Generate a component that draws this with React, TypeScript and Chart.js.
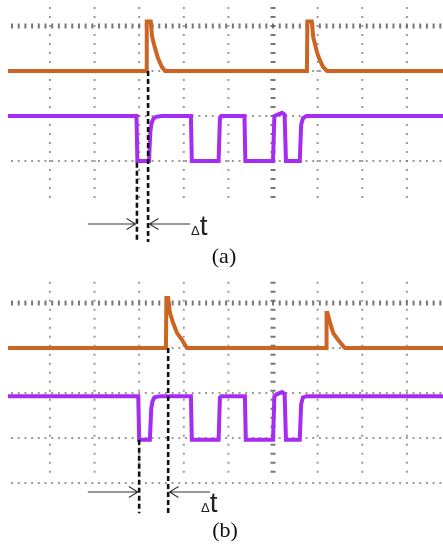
import React, { useEffect, useRef } from "react";
import { Chart, registerables } from "chart.js";

Chart.register(...registerables);

// ---- Axis ranges (in oscilloscope divisions) ----
const X_MIN = -5.94;
const X_MAX = 3.81;
const gridXDivs = [-5, -4, -3, -2, -1, 0, 1, 2, 3];

// ---- Panel (a) ----
const orangeA_x = [-5.94, -2.84, -2.83, -2.74, -2.71, -2.65, -2.58, -2.49, -2.42, 0.76, 0.77, 0.87, 0.9, 0.99, 1.05, 1.12, 1.21, 3.81];
const orangeA_y = [-1, -1, 0.1, 0.1, -0.24, -0.47, -0.71, -0.91, -1, -1, 0.1, 0.1, -0.24, -0.6, -0.76, -0.91, -1, -1];
const purpleA_x = [-5.94, -3.06, -3.04, -2.78, -2.75, -2.72, -2.68, -2.62, -2.5, -1.84, -1.82, -1.22, -1.19, -1.16, -0.64, -0.62, 0.0, 0.03, 0.08, 0.2, 0.26, 0.29, 0.6, 0.63, 0.67, 0.75, 3.81];
const purpleA_y = [-2, -2, -3, -3, -2.35, -2.15, -2.06, -2.02, -2, -2, -3, -3, -2.05, -2, -2, -3, -3, -2.0, -1.98, -1.93, -1.97, -3, -3, -2.2, -2.05, -2, -2];
const markerA_x = [-3.05, -2.8];
const markerA_top = [-3.04, -1.0];
const markerA_bottom = [-4.8, -4.8];
const arrowA_y = -4.4;
const arrowA_from = [-4.15, -1.86];
const arrowA_to = [-3.08, -2.77];
const hLinesA = [0, -1, -2, -3];

// ---- Panel (b) ----
const orangeB_x = [-5.94, -2.4, -2.39, -2.35, -2.31, -2.24, -2.15, -2.04, -1.93, 1.19, 1.2, 1.22, 1.28, 1.35, 1.46, 1.61, 3.81];
const orangeB_y = [-1, -1, 0.11, 0.11, -0.22, -0.44, -0.67, -0.82, -1, -1, -0.22, -0.22, -0.44, -0.67, -0.82, -1, -1];
const purpleB_x = [-5.94, -3.02, -3.0, -2.76, -2.73, -2.7, -2.66, -2.6, -2.5, -1.84, -1.82, -1.22, -1.19, -1.16, -0.63, -0.61, 0.0, 0.03, 0.08, 0.2, 0.26, 0.29, 0.6, 0.63, 0.67, 0.75, 3.81];
const purpleB_y = [-2.07, -2.07, -3.04, -3.04, -2.35, -2.18, -2.1, -2.08, -2.07, -2.07, -3.04, -3.04, -2.1, -2.07, -2.07, -3.04, -3.04, -2.07, -2.03, -1.98, -2.02, -3.04, -3.04, -2.25, -2.1, -2.07, -2.07];
const markerB_x = [-3.0, -2.35];
const markerB_top = [-3.04, -1.0];
const markerB_bottom = [-4.67, -4.67];
const arrowB_y = -4.2;
const arrowB_from = [-4.15, -1.41];
const arrowB_to = [-3.03, -2.32];
const hLinesB = [0, -1, -2, -3, -4];

const ORANGE = "#cc6424";
const PURPLE = "#a52cf0";

type PanelSpec = {
  height: number;
  yMin: number;
  yMax: number;
  orangeX: number[];
  orangeY: number[];
  purpleX: number[];
  purpleY: number[];
  markerX: number[];
  markerTop: number[];
  markerBottom: number[];
  arrowY: number;
  arrowFrom: number[];
  arrowTo: number[];
  hLines: number[];
  vTop: number;
  vBottom: number;
};

const zip = (xs: number[], ys: number[]) => xs.map((x, i) => ({ x, y: ys[i] }));

const scopeGrid = {
  id: "scopeGrid",
  beforeDatasetsDraw(chart: any, _args: any, opts: any) {
    const { ctx, scales } = chart;
    const xs = scales.x;
    const ys = scales.y;
    ctx.save();
    for (const gx of gridXDivs) {
      const px = xs.getPixelForValue(gx);
      for (let v = opts.vTop; v >= opts.vBottom - 1e-6; v -= 0.2) {
        const py = ys.getPixelForValue(v);
        if (gx === 0) {
          ctx.fillStyle = "rgba(95,95,95,0.85)";
          ctx.fillRect(px - 2.5, py - 1, 5, 2);
        } else {
          ctx.fillStyle = "rgba(120,120,120,0.75)";
          ctx.fillRect(px - 1, py - 1, 2, 2);
        }
      }
    }
    for (const gy of opts.hLines) {
      const py = ys.getPixelForValue(gy);
      const start = Math.ceil((X_MIN + 0.05) / 0.15) * 0.15;
      for (let v = start; v <= X_MAX; v += 0.15) {
        const px = xs.getPixelForValue(v);
        if (gy === 0) {
          ctx.fillStyle = "rgba(95,95,95,0.85)";
          ctx.fillRect(px - 1, py - 2.5, 2, 5);
        } else {
          ctx.fillStyle = "rgba(120,120,120,0.75)";
          ctx.fillRect(px - 1, py - 1, 2, 2);
        }
      }
    }
    ctx.restore();
  },
};

const arrows = {
  id: "arrows",
  afterDatasetsDraw(chart: any, _args: any, opts: any) {
    const { ctx, scales } = chart;
    const py = scales.y.getPixelForValue(opts.y);
    ctx.save();
    ctx.strokeStyle = "#333";
    ctx.lineWidth = 1.1;
    opts.from.forEach((f: number, i: number) => {
      const x0 = scales.x.getPixelForValue(f);
      const x1 = scales.x.getPixelForValue(opts.to[i]);
      const dir = x1 > x0 ? 1 : -1;
      ctx.beginPath();
      ctx.moveTo(x0, py);
      ctx.lineTo(x1, py);
      ctx.moveTo(x1 - dir * 9, py - 5.5);
      ctx.lineTo(x1, py);
      ctx.lineTo(x1 - dir * 9, py + 5.5);
      ctx.stroke();
    });
    ctx.restore();
  },
};

function ScopePanel({ spec }: { spec: PanelSpec }) {
  const ref = useRef<HTMLCanvasElement | null>(null);
  useEffect(() => {
    if (!ref.current) return;
    const markerSets = spec.markerX.map((mx, i) => ({
      data: [
        { x: mx, y: spec.markerTop[i] },
        { x: mx, y: spec.markerBottom[i] },
      ],
      borderColor: "#111",
      borderWidth: 2.6,
      borderDash: [5, 3],
      pointRadius: 0,
      order: 0,
    }));
    const chart = new Chart(ref.current, {
      type: "line",
      data: {
        datasets: [
          ...markerSets,
          {
            data: zip(spec.orangeX, spec.orangeY),
            borderColor: ORANGE,
            borderWidth: 4,
            pointRadius: 0,
            tension: 0,
            order: 1,
          },
          {
            data: zip(spec.purpleX, spec.purpleY),
            borderColor: PURPLE,
            borderWidth: 4,
            pointRadius: 0,
            tension: 0,
            order: 2,
          },
        ],
      },
      options: {
        responsive: false,
        animation: false,
        layout: { padding: { left: 8, right: 0, top: 0, bottom: 0 } },
        scales: {
          x: { type: "linear", display: false, min: X_MIN, max: X_MAX },
          y: { type: "linear", display: false, min: spec.yMin, max: spec.yMax },
        },
        plugins: {
          legend: { display: false },
          tooltip: { enabled: false },
          scopeGrid: { hLines: spec.hLines, vTop: spec.vTop, vBottom: spec.vBottom },
          arrows: { y: spec.arrowY, from: spec.arrowFrom, to: spec.arrowTo },
        } as any,
      },
      plugins: [scopeGrid, arrows],
    } as any);
    return () => chart.destroy();
  }, [spec]);
  return <canvas ref={ref} width={443} height={spec.height} style={{ display: "block", width: 443, height: spec.height }} />;
}

const specA: PanelSpec = {
  height: 270,
  yMin: (26 - 270) / 45,
  yMax: 26 / 45,
  orangeX: orangeA_x,
  orangeY: orangeA_y,
  purpleX: purpleA_x,
  purpleY: purpleA_y,
  markerX: markerA_x,
  markerTop: markerA_top,
  markerBottom: markerA_bottom,
  arrowY: arrowA_y,
  arrowFrom: arrowA_from,
  arrowTo: arrowA_to,
  hLines: hLinesA,
  vTop: 0.4,
  vBottom: -3.9,
};

const specB: PanelSpec = {
  height: 275,
  yMin: (33 - 275) / 45,
  yMax: 33 / 45,
  orangeX: orangeB_x,
  orangeY: orangeB_y,
  purpleX: purpleB_x,
  purpleY: purpleB_y,
  markerX: markerB_x,
  markerTop: markerB_top,
  markerBottom: markerB_bottom,
  arrowY: arrowB_y,
  arrowFrom: arrowB_from,
  arrowTo: arrowB_to,
  hLines: hLinesB,
  vTop: 0.45,
  vBottom: -3.88,
};

function DeltaT({ left, baseline }: { left: number; baseline: number }) {
  return (
    <div
      style={{
        position: "absolute",
        left,
        top: baseline - 0.8465 * 28,
        fontFamily: '"Liberation Sans", Arial, sans-serif',
        fontSize: 28,
        lineHeight: "28px",
        color: "#222",
        whiteSpace: "nowrap",
      }}
    >
      <span style={{ fontSize: 13 }}>Δ</span>
      <span>t</span>
    </div>
  );
}

function Caption({ text, center, baseline }: { text: string; center: number; baseline: number }) {
  return (
    <div
      style={{
        position: "absolute",
        left: center,
        top: baseline - 0.8375 * 22,
        transform: "translateX(-50%)",
        fontFamily: '"Liberation Serif", "Times New Roman", serif',
        fontSize: 22,
        lineHeight: "22px",
        color: "#111",
        whiteSpace: "nowrap",
      }}
    >
      {text}
    </div>
  );
}

export default function App() {
  return (
    <div style={{ position: "absolute", left: 0, top: 0, width: 443, height: 545, background: "#fff", overflow: "hidden" }}>
      <div style={{ position: "absolute", left: 0, top: 0 }}>
        <ScopePanel spec={specA} />
      </div>
      <div style={{ position: "absolute", left: 0, top: 270 }}>
        <ScopePanel spec={specB} />
      </div>
      <DeltaT left={191} baseline={236} />
      <Caption text="(a)" center={224} baseline={263} />
      <DeltaT left={201} baseline={513} />
      <Caption text="(b)" center={225} baseline={537} />
    </div>
  );
}
